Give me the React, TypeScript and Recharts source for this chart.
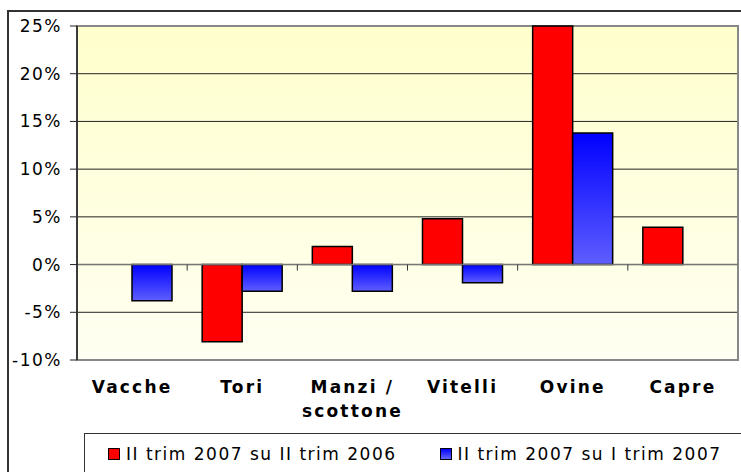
import { BarChart, Bar, XAxis, YAxis, CartesianGrid, Legend, ReferenceLine, ReferenceArea } from 'recharts';

const categories = ['Vacche', 'Tori', 'Manzi / scottone', 'Vitelli', 'Ovine', 'Capre'];
const annoSuAnno = [null, -8.1, 1.9, 4.8, 25, 3.9];
const trimSuTrim = [-3.8, -2.8, -2.8, -1.9, 13.8, null];
const yTicks = [-10, -5, 0, 5, 10, 15, 20, 25];
const seriesNames = ['II trim 2007 su II trim 2006', 'II trim 2007 su I trim 2007'];

const data = categories.map((name, i) => ({
  name,
  a: annoSuAnno[i],
  b: trimSuTrim[i],
}));

const FONT = "'DejaVu Sans', Verdana, sans-serif";

const XTick = (props: any) => {
  const { x, y, payload } = props;
  const label: string = payload.value;
  const lines = label.includes(' / ') ? [label.split(' / ')[0] + ' /', label.split(' / ')[1]] : [label];
  return (
    <text x={x} y={y} textAnchor="middle" fontFamily={FONT} fontSize={17} fontWeight="bold" letterSpacing={2.2} fill="#000">
      {lines.map((l, i) => (
        <tspan key={i} x={x} dy={i === 0 ? 33 : 24}>
          {l}
        </tspan>
      ))}
    </text>
  );
};

const YTick = (props: any) => {
  const { x, y, payload } = props;
  return (
    <text x={x} y={y} dy={6} textAnchor="end" fontFamily={FONT} fontSize={17} letterSpacing={1.5} fill="#000">
      {`${payload.value}%`}
    </text>
  );
};

const ZeroLine = (p: any) => {
  const { x1, x2, y1 } = p;
  const n = categories.length;
  const ticks = Array.from({ length: n - 1 }, (_, i) => x1 + ((i + 1) * (x2 - x1)) / n);
  return (
    <g>
      <line x1={x1} x2={x2} y1={y1} y2={y1} stroke="#777" strokeWidth={1.5} />
      {ticks.map((tx, i) => (
        <line key={i} x1={tx} x2={tx} y1={y1} y2={y1 + 6} stroke="#333" strokeWidth={1} />
      ))}
    </g>
  );
};

const LegendBox = () => (
  <div
    style={{
      boxSizing: 'border-box',
      width: '100%',
      height: '100%',
      border: '1px solid #333',
      display: 'flex',
      alignItems: 'center',
      fontFamily: FONT,
      fontSize: 17,
      letterSpacing: 1.5,
      color: '#000',
      whiteSpace: 'nowrap',
      paddingBottom: 8,
    }}
  >
    <span style={{ display: 'inline-block', width: 10, height: 10, border: '1px solid #000', background: '#ff0000', marginLeft: 23 }} />
    <span style={{ marginLeft: 6 }}>{seriesNames[0]}</span>
    <span
      style={{
        display: 'inline-block',
        width: 10,
        height: 10,
        border: '1px solid #000',
        background: 'linear-gradient(#0000ff, #6666ff)',
        marginLeft: 43,
      }}
    />
    <span style={{ marginLeft: 6 }}>{seriesNames[1]}</span>
  </div>
);

export default function App() {
  return (
    <div style={{ position: 'fixed', left: 0, top: 0, width: 741, height: 472, overflow: 'hidden', background: '#fff' }}>
      <BarChart
        width={741}
        height={472}
        data={data}
        margin={{ top: 26, right: 3, left: 0, bottom: 52 }}
        barCategoryGap={15}
        barGap={0}
      >
        <defs>
          <linearGradient id="bg" x1="0" y1="0" x2="0" y2="1">
            <stop offset="0%" stopColor="#ffffcc" />
            <stop offset="100%" stopColor="#fffff2" />
          </linearGradient>
          <linearGradient id="blueGrad" x1="0" y1="0" x2="0" y2="1">
            <stop offset="0%" stopColor="#0000ff" />
            <stop offset="100%" stopColor="#5e5eff" />
          </linearGradient>
        </defs>
        <CartesianGrid vertical={false} fill="url(#bg)" stroke="#222" strokeWidth={1} />
        <XAxis dataKey="name" interval={0} axisLine={false} tickLine={false} tickSize={0} tickMargin={0} height={60} tick={<XTick />} />
        <YAxis
          domain={[-10, 25]}
          ticks={yTicks}
          width={77}
          interval={0}
          tick={<YTick />}
          axisLine={{ stroke: '#222', strokeWidth: 1.5 }}
          tickLine={{ stroke: '#222' }}
          tickSize={7}
          tickMargin={8}
        />
        <ReferenceArea y1={-10} y2={25} fill="none" fillOpacity={0} stroke="#888" strokeWidth={2} />
        <Bar dataKey="a" name={seriesNames[0]} fill="#ff0000" stroke="#000" strokeWidth={1.5} isAnimationActive={false} />
        <Bar dataKey="b" name={seriesNames[1]} fill="url(#blueGrad)" stroke="#000" strokeWidth={1.5} isAnimationActive={false} />
        <ReferenceLine y={0} shape={<ZeroLine />} />
        <Legend
          verticalAlign="middle"
          layout="horizontal"
          content={<LegendBox />}
          wrapperStyle={{ position: 'absolute', left: 84, top: 433, width: 700, height: 50 }}
        />
      </BarChart>
      <div
        style={{
          position: 'absolute',
          left: 7,
          top: 10,
          width: 760,
          height: 490,
          border: '2px solid #333',
          boxSizing: 'border-box',
          pointerEvents: 'none',
        }}
      />
    </div>
  );
}
